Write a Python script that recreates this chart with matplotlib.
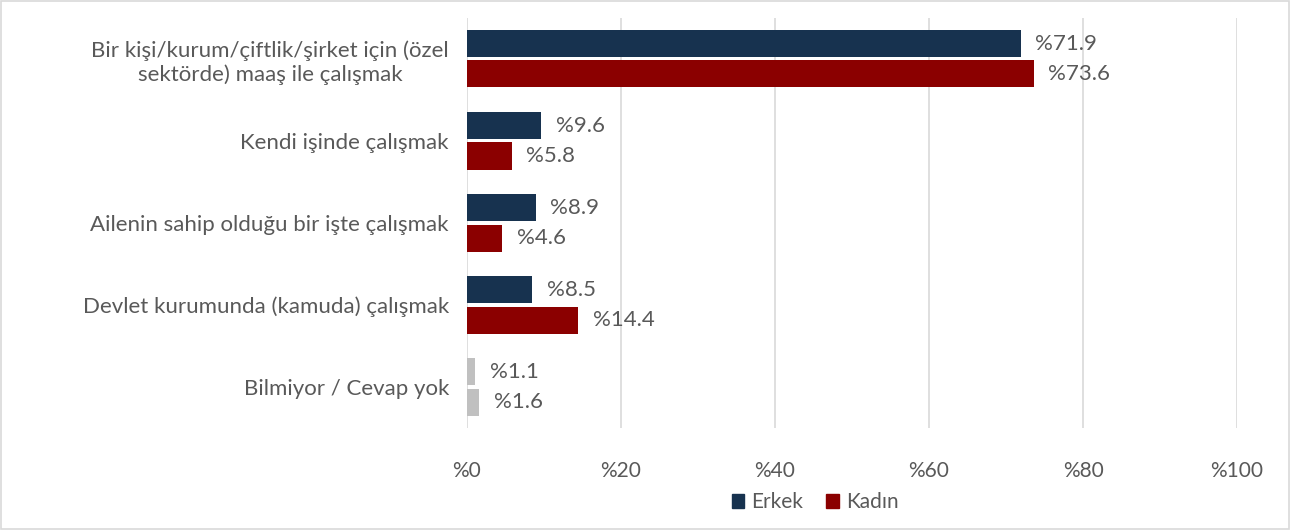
import numpy as np
import matplotlib.pyplot as plt
from matplotlib.patches import Patch, Rectangle

plt.rcParams['font.family'] = ['Lato', 'DejaVu Sans']

kategoriler = [
    'Bir kişi/kurum/çiftlik/şirket için (özel\nsektörde) maaş ile çalışmak',
    'Kendi işinde çalışmak',
    'Ailenin sahip olduğu bir işte çalışmak',
    'Devlet kurumunda (kamuda) çalışmak',
    'Bilmiyor / Cevap yok',
]
erkek = [71.9, 9.6, 8.9, 8.5, 1.1]
kadin = [73.6, 5.8, 4.6, 14.4, 1.6]
x_ticks = [0, 20, 40, 60, 80, 100]

c_erkek = '#17324f'
c_kadin = '#8b0000'
c_gri = '#c0c0c0'
yazi = '#595959'

fig = plt.figure(figsize=(12.9, 5.3), dpi=100)
ax = fig.add_axes([0.362, 0.1925, 0.597, 0.774])

y = np.arange(len(kategoriler))
h = 0.33
gap = 0.04
renk_e = [c_erkek] * 4 + [c_gri]
renk_k = [c_kadin] * 4 + [c_gri]
ax.barh(y - h / 2 - gap / 2, erkek, height=h, color=renk_e, zorder=3)
ax.barh(y + h / 2 + gap / 2, kadin, height=h, color=renk_k, zorder=3)

for i in range(len(kategoriler)):
    ax.text(erkek[i] + 1.9, y[i] - h / 2 - gap / 2, f'%{erkek[i]}', va='center', ha='left',
            fontsize=16, color=yazi)
    ax.text(kadin[i] + 1.9, y[i] + h / 2 + gap / 2, f'%{kadin[i]}', va='center', ha='left',
            fontsize=16, color=yazi)

ax.set_xlim(0, 100)
ax.set_ylim(len(kategoriler) - 0.5, -0.5)
ax.set_xticks(x_ticks)
ax.set_xticklabels([f'%{t}' for t in x_ticks], fontsize=15, color=yazi)
ax.set_yticks(y)
ax.set_yticklabels(kategoriler, fontsize=16, color=yazi, multialignment='center')
ax.tick_params(axis='both', length=0)
ax.tick_params(axis='y', pad=13)
ax.tick_params(axis='x', pad=24)
ax.grid(axis='x', color='#d9d9d9', linewidth=1.2, zorder=0)
for s in ax.spines.values():
    s.set_visible(False)

handles = [Patch(color=c_erkek, label='Erkek'), Patch(color=c_kadin, label='Kadın')]
leg = fig.legend(handles=handles, loc='center', bbox_to_anchor=(0.632, 0.052), ncol=2,
                 frameon=False, fontsize=15, handlelength=0.6, handleheight=0.6,
                 handletextpad=0.35, columnspacing=1.1)
for t in leg.get_texts():
    t.set_color(yazi)

fig.patches.append(Rectangle((0.001, 0.002), 0.998, 0.996, transform=fig.transFigure,
                             fill=False, edgecolor='#d9d9d9', linewidth=1.2))

fig.savefig('out.png', dpi=100)
